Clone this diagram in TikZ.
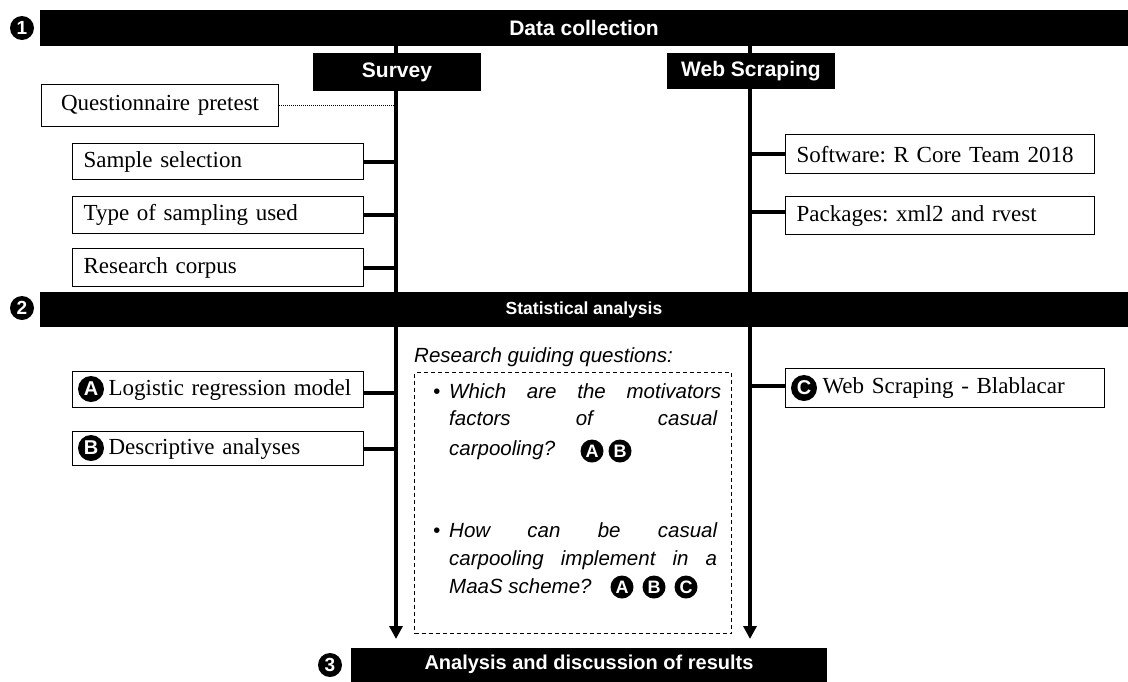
\documentclass[tikz,border=0pt]{standalone}
\usepackage{fontspec}
\setmainfont{Liberation Serif}
\setsansfont{Liberation Sans}
\usetikzlibrary{arrows.meta}
\frenchspacing
\begin{document}
\begin{tikzpicture}[x=1pt,y=-1pt,
  bar/.style={fill=black, text=white, inner sep=0pt, font=\sffamily\bfseries\fontsize{21}{21}\selectfont},
  tbox/.style={draw, line width=1.2pt, anchor=north west, inner xsep=11pt, inner ysep=0pt, align=left, font=\fontsize{23}{27}\selectfont},
  circ/.style={circle, fill=black, text=white, inner sep=0pt, minimum size=26pt, font=\sffamily\bfseries\fontsize{20}{20}\selectfont},
  ncirc/.style={circ, minimum size=24pt, font=\sffamily\bfseries\fontsize{19}{19}\selectfont},
  qcirc/.style={circ, minimum size=23pt, font=\sffamily\bfseries\fontsize{18}{18}\selectfont},
  spine/.style={line width=4pt, -{Triangle[width=13pt,length=13pt]}},
  link/.style={line width=4pt},
  qtext/.style={anchor=base west, inner sep=0pt, font=\sffamily\itshape\fontsize{20.5}{24}\selectfont},
]
\useasboundingbox (0,0) rectangle (1128,681);

% spines
\coordinate (svtop) at (396,46);
\coordinate (svend) at (396,639);
\coordinate (wbtop) at (750,46);
\coordinate (wbend) at (750,639);
\draw[spine] (svtop) -- (svend);
\draw[spine] (wbtop) -- (wbend);

% bars
\node[bar, minimum width=1088pt, minimum height=36pt] (bar1) at (584,28) {Data collection};
\node[bar, minimum width=168pt, minimum height=38pt] (survey) at (397,72) {Survey};
\node[bar, minimum width=168pt, minimum height=36pt] (web) at (751,71) {Web Scraping};
\node[bar, minimum width=1088pt, minimum height=35pt, font=\sffamily\bfseries\fontsize{17.5}{17.5}\selectfont] (bar2) at (584,309.5) {Statistical analysis};
\node[bar, minimum width=476pt, minimum height=34pt, font=\sffamily\bfseries\fontsize{20}{20}\selectfont] (bar3) at (589,664.5) {Analysis and discussion of results};

\node[ncirc] (n1) at (22,28) {1};
\node[ncirc] (n2) at (22,308) {2};
\node[ncirc] (n3) at (330,665) {3};

% left boxes
\node[tbox, align=center, text width=215pt, minimum height=42pt] (quest) at (41,84) {Questionnaire pretest};
\node[tbox, text width=269pt, minimum height=36pt] (samp) at (72,143) {Sample selection};
\node[tbox, text width=269pt, minimum height=37pt] (type) at (72,196) {Type of sampling used};
\node[tbox, text width=269pt, minimum height=38pt] (corp) at (72,248) {Research corpus};
\node[tbox, text width=269pt, minimum height=36pt] (logit) at (72,371) {\hspace*{25pt}Logistic regression model};
\node[tbox, text width=269pt, minimum height=34pt] (desc) at (72,431) {\hspace*{25pt}Descriptive analyses};
\node[circ] (ca) at (91,389) {A};
\node[circ] (cb) at (91,448) {B};

% right boxes
\node[tbox, text width=287pt, minimum height=39pt] (soft) at (785,134) {Software: R Core Team 2018};
\node[tbox, text width=287pt, minimum height=38pt] (pack) at (785,196) {Packages: xml2 and rvest};
\node[tbox, text width=297pt, minimum height=39pt] (blab) at (785,368) {\hspace*{26pt}Web Scraping - Blablacar};
\node[circ] (cc) at (804,388) {C};

% connectors
\draw[dash pattern=on 1pt off 1pt, line width=1pt] (quest.east) -- (quest.east -| svtop);
\draw[link] (samp.east) -- (samp.east -| svtop);
\draw[link] (type.east) -- (type.east -| svtop);
\draw[link] (corp.east) -- (corp.east -| svtop);
\coordinate (lg) at ([yshift=-3pt]logit.east);
\draw[link] (lg) -- (lg -| svtop);
\draw[link] (desc.east) -- (desc.east -| svtop);
\draw[link] (soft.west) -- (soft.west -| wbtop);
\coordinate (pk) at ([yshift=4pt]pack.west);
\draw[link] (pk) -- (pk -| wbtop);
\coordinate (bl) at ([yshift=2pt]blab.west);
\draw[link] (bl) -- (bl -| wbtop);

% questions
\node[draw, dash pattern=on 4pt off 3pt, line width=1pt, anchor=north west, minimum width=317pt, minimum height=261pt, inner sep=0pt] (qbox) at (414,372) {};
\node[qtext] (qhead) at (414,362) {Research guiding questions:};
\node[qtext] (b1) at (433,398) {\textbullet};
\node[qtext] (q1a) at (449,398) {\makebox[272pt][s]{Which are the motivators}};
\node[qtext] (q1b) at (449,425) {\makebox[268pt][s]{factors of casual}};
\node[qtext] (q1c) at (449,455) {carpooling?};
\node[qcirc] (qa1) at (592,451) {A};
\node[qcirc] (qb1) at (620,451) {B};
\node[qtext] (b2) at (433,537) {\textbullet};
\node[qtext] (q2a) at (449,537) {\makebox[268pt][s]{How can be casual}};
\node[qtext] (q2b) at (449,565) {\makebox[268pt][s]{carpooling implement in a}};
\node[qtext] (q2c) at (449,593) {MaaS scheme?};
\node[qcirc] (qa2) at (622,587) {A};
\node[qcirc] (qb2) at (654,587) {B};
\node[qcirc] (qc2) at (686,587) {C};
\end{tikzpicture}
\end{document}
